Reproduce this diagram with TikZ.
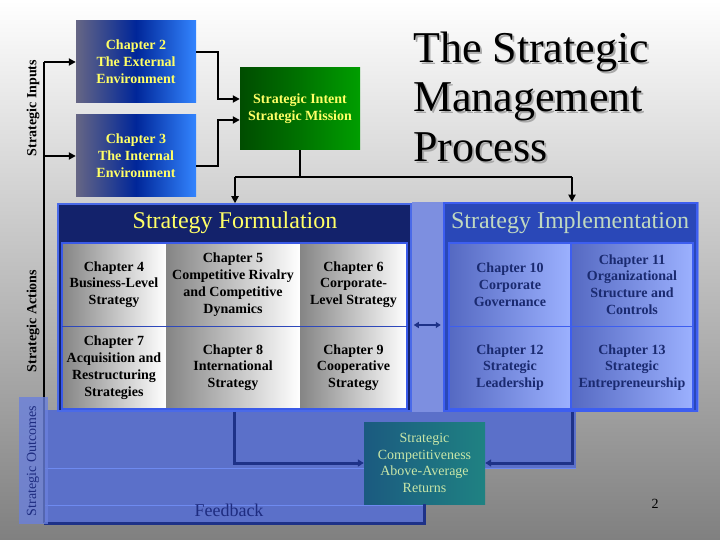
\documentclass[tikz,border=0pt]{standalone}
\usepackage{fontspec}
\setmainfont{Liberation Serif}
\usetikzlibrary{arrows.meta}
\definecolor{yel}{HTML}{FFFF66}
\definecolor{navyA}{HTML}{13226B}
\definecolor{frmline}{HTML}{4A6AE8}
\definecolor{celline}{HTML}{3A5AE8}
\definecolor{lowblue}{HTML}{5B70C9}
\definecolor{lowline}{HTML}{6E8AF0}
\definecolor{outblue}{HTML}{6A80DC}
\definecolor{darkblue}{HTML}{1E3288}
\definecolor{impstrip}{HTML}{7D8FE0}
\definecolor{imphdr}{HTML}{2A48B8}
\definecolor{impline}{HTML}{3D5EF0}
\definecolor{implL}{HTML}{5569C2}
\definecolor{implR}{HTML}{9CB1FF}
\definecolor{imptext}{HTML}{1A2A70}
\definecolor{impltitle}{HTML}{C0D8C0}
\definecolor{tealL}{HTML}{1B5A80}
\definecolor{tealR}{HTML}{1F8282}
\definecolor{tealtext}{HTML}{C8E6A8}
\definecolor{fbtext}{HTML}{1E2C80}
\definecolor{shadowgray}{HTML}{A8A8A8}
\definecolor{bgbottom}{HTML}{808080}
\tikzset{
  small/.style={font=\fontsize{14}{16.8}\selectfont\bfseries, align=center, inner sep=0pt},
  smallreg/.style={font=\fontsize{14}{16.8}\selectfont, align=center, inner sep=0pt},
  chbox/.style={small, text=yel, minimum width=120pt, minimum height=82pt,
    left color=black!80!blue!60, right color=blue!60!cyan!80!white, middle color=blue!75!cyan!60!black},
  greenbox/.style={small, text=yel, minimum width=120pt, minimum height=82pt,
    left color=green!30!black, right color=green!62!black, middle color=green!45!black},
  fcell/.style={small, text=black, left color=black!48, right color=white},
  icell/.style={small, text=imptext, left color=implL, right color=implR},
  hdr/.style={font=\fontsize{24}{28}\selectfont, inner sep=0pt},
  ttl/.style={font=\fontsize{44}{50}\selectfont, inner sep=0pt, anchor=base west},
  blk/.style={draw=black, line width=2.5pt},
  nv/.style={draw=darkblue, line width=3pt},
  arr/.style={-{Triangle[length=7pt,width=7pt]}},
  arrn/.style={-{Triangle[length=6pt,width=7pt]}},
}
\begin{document}
\begin{tikzpicture}[x=1pt,y=-1pt]
\useasboundingbox (0,0) rectangle (720,540);
\fill[top color=white, bottom color=bgbottom] (0,0) rectangle (720,540);

% lower blue regions
\fill[lowblue] (43,410) rectangle (576,468);
\fill[lowblue] (43,468) rectangle (425,523);
\draw[lowline, line width=0.8pt] (43,468) -- (576,468);
\draw[lowline, line width=0.8pt] (43,505) -- (425,505);

% title with shadow
\node[ttl, text=shadowgray] (s1) at (415,65) {The Strategic};
\node[ttl, text=shadowgray] (s2) at (415,114) {Management};
\node[ttl, text=shadowgray] (s3) at (415,164) {Process};
\node[ttl] (t1) at (413,63) {The Strategic};
\node[ttl] (t2) at (413,112) {Management};
\node[ttl] (t3) at (413,162) {Process};

% input boxes
\node[chbox] (ch2) at (136,62) {Chapter 2\\The External\\Environment};
\node[chbox] (ch3) at (136,156) {Chapter 3\\The Internal\\Environment};
\node[greenbox] (intent) at (300,109) {Strategic Intent\\Strategic Mission};

% implementation panel
\node[fill=impstrip, minimum width=287pt, minimum height=210pt, inner sep=0pt] (istrip) at (555.5,307) {};
\node[fill=imphdr, draw=impline, line width=2.5pt, minimum width=253pt, minimum height=208pt, inner sep=0pt] (impl) at (570.5,307) {};
\node[hdr, text=impltitle] (ihdr) at (570,223) {Strategy Implementation};
\node[icell, minimum width=122pt, minimum height=83pt] (c10) at (510,284.5) {Chapter 10\\Corporate\\Governance};
\node[icell, minimum width=122pt, minimum height=83pt] (c11) at (632,284.5) {Chapter 11\\Organizational\\Structure and\\Controls};
\node[icell, minimum width=122pt, minimum height=83pt] (c12) at (510,367.5) {Chapter 12\\Strategic\\Leadership};
\node[icell, minimum width=122pt, minimum height=83pt] (c13) at (632,367.5) {Chapter 13\\Strategic\\Entrepreneurship};
\draw[impline, line width=2pt] (c10.north west) rectangle (c13.south east);
\draw[impline, line width=2pt] (c10.north east) -- (c12.south east);
\draw[impline, line width=0.8pt] (c10.south west) -- (c11.south east);

% formulation panel
\node[fill=navyA, draw=frmline, line width=1.5pt, minimum width=353pt, minimum height=207pt, inner sep=0pt] (form) at (234.5,307.5) {};
\node[hdr, text=yel] (fhdr) at (235,223) {Strategy Formulation};
\node[fcell, minimum width=104pt, minimum height=83pt] (c4) at (114,284.5) {Chapter 4\\Business-Level\\Strategy};
\node[fcell, minimum width=134pt, minimum height=83pt] (c5) at (233,284.5) {Chapter 5\\Competitive Rivalry\\and Competitive\\Dynamics};
\node[fcell, minimum width=107pt, minimum height=83pt] (c6) at (353.5,284.5) {Chapter 6\\Corporate-\\Level Strategy};
\node[fcell, minimum width=104pt, minimum height=83pt] (c7) at (114,367.5) {Chapter 7\\Acquisition and\\Restructuring\\Strategies};
\node[fcell, minimum width=134pt, minimum height=83pt] (c8) at (233,367.5) {Chapter 8\\International\\Strategy};
\node[fcell, minimum width=107pt, minimum height=83pt] (c9) at (353.5,367.5) {Chapter 9\\Cooperative\\Strategy};
\draw[celline, line width=2pt] (c4.north west) rectangle (c9.south east);
\draw[celline!80!black, line width=0.8pt] (c4.south west) -- (c6.south east);

% outcome box
\node[smallreg, text=tealtext, left color=tealL, right color=tealR, minimum width=121pt, minimum height=82pt] (teal) at (424.5,463) {Strategic\\Competitiveness\\Above-Average\\Returns};
\node[font=\fontsize{18}{20}\selectfont, text=fbtext, inner sep=0pt] (fb) at (229,510) {Feedback};
\node[font=\fontsize{14}{16}\selectfont, inner sep=0pt] (pg) at (655,504) {2};

% connectors (top)
\coordinate (top) at (44,62);
\coordinate (fbc) at (44,523);
\coordinate (j0) at (300,177);
\coordinate (jl) at (235,177);
\coordinate (jr) at (572,177);
\draw[blk] (fbc) -- (top);
\draw[blk,arr] (top) -- (ch2.west);
\draw[blk,arr] (top |- ch3.west) -- (ch3.west);
\draw[blk,arr] ([yshift=10pt]ch2.east) -- ++(22,0) |- ([yshift=10pt]intent.west);
\draw[blk,arr] ([yshift=-10pt]ch3.east) -- ++(22,0) |- ([yshift=-11pt]intent.west);
\draw[blk] (intent.south) -- (j0);
\draw[blk] (jl) -- (jr);
\draw[blk,arr] (jl) -- (jl |- form.north);
\draw[blk,arr] (jr) -- (jr |- impl.north);

% connectors (bottom)
\coordinate (fl) at (234,463);
\coordinate (da) at (0,325);
\draw[nv,arrn] (form.south -| fl) |- (teal.west);
\draw[nv,arrn] (impl.south -| jr) |- (teal.east);
\draw[nv] (teal.south) |- (fbc);
\draw[darkblue, line width=2pt, {Triangle[length=5pt,width=6pt]}-{Triangle[length=5pt,width=6pt]}] ([xshift=2pt]form.east |- da) -- ([xshift=-2pt]impl.west |- da);

% outcomes strip
\fill[outblue, fill opacity=0.8] (19,397) rectangle (48,524);

% side labels
\node[small, rotate=90] (lin) at (33,108) {Strategic Inputs};
\node[small, rotate=90] (lac) at (33,321) {Strategic Actions};
\node[smallreg, rotate=90, text=fbtext] (lout) at (33,461) {Strategic Outcomes};
\end{tikzpicture}
\end{document}
